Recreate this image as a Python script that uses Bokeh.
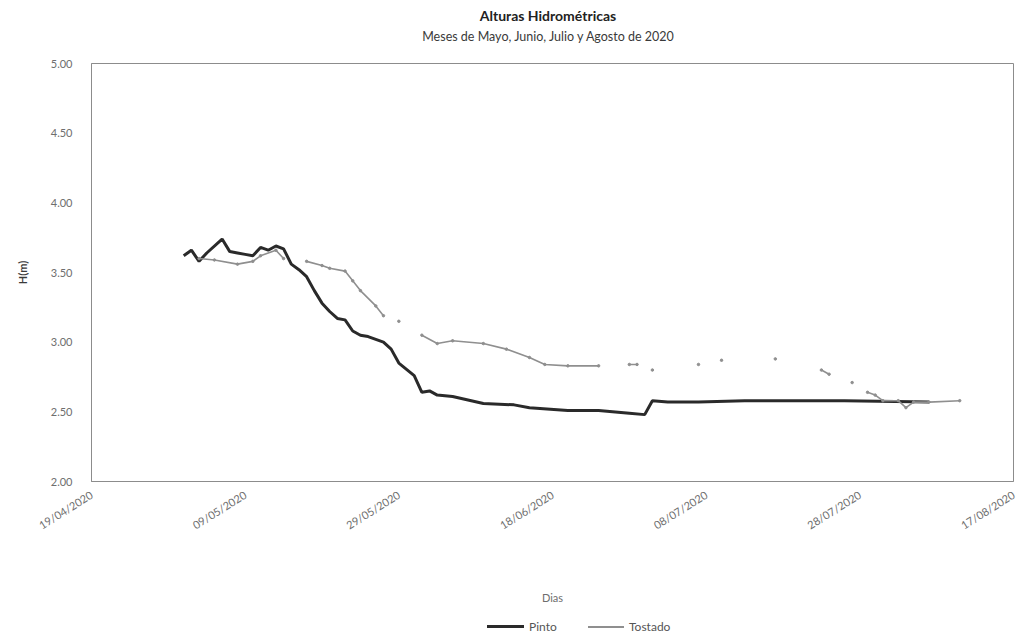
import numpy as np
import pandas as pd
from bokeh.plotting import figure
from bokeh.layouts import column
from bokeh.models import (ColumnDataSource, FixedTicker, DatetimeTickFormatter,
                          NumeralTickFormatter, Range1d, Div)
from bokeh.embed import file_html
from bokeh.resources import INLINE

# ---------------- data ----------------
title_text = "Alturas Hidrométricas"
subtitle_text = "Meses de Mayo, Junio, Julio y Agosto de 2020"
series_names = ["Pinto", "Tostado"]

pinto_dates = ["2020-05-01", "2020-05-02", "2020-05-03", "2020-05-04", "2020-05-06",
               "2020-05-07", "2020-05-08", "2020-05-09", "2020-05-10", "2020-05-11",
               "2020-05-12", "2020-05-13", "2020-05-14", "2020-05-15", "2020-05-16",
               "2020-05-17", "2020-05-18", "2020-05-19", "2020-05-20", "2020-05-21",
               "2020-05-22", "2020-05-23", "2020-05-24", "2020-05-25", "2020-05-27",
               "2020-05-28", "2020-05-29", "2020-05-31", "2020-06-01", "2020-06-02",
               "2020-06-03", "2020-06-05", "2020-06-09", "2020-06-13", "2020-06-15",
               "2020-06-20", "2020-06-24", "2020-06-28", "2020-06-30", "2020-07-01",
               "2020-07-03", "2020-07-07", "2020-07-13", "2020-07-26", "2020-08-06"]
pinto_values = [3.62, 3.66, 3.58, 3.64, 3.74,
                3.65, 3.64, 3.63, 3.62, 3.68,
                3.66, 3.69, 3.67, 3.56, 3.52,
                3.47, 3.37, 3.28, 3.22, 3.17,
                3.16, 3.08, 3.05, 3.04, 3.00,
                2.95, 2.85, 2.76, 2.64, 2.65,
                2.62, 2.61, 2.56, 2.55, 2.53,
                2.51, 2.51, 2.49, 2.48, 2.58,
                2.57, 2.57, 2.58, 2.58, 2.57]

tostado_dates = ["2020-05-03", "2020-05-05", "2020-05-08", "2020-05-10", "2020-05-11",
                 "2020-05-13", "2020-05-14", "2020-05-16", "2020-05-17", "2020-05-19",
                 "2020-05-20", "2020-05-22", "2020-05-23", "2020-05-24", "2020-05-26",
                 "2020-05-27", "2020-05-28", "2020-05-29", "2020-05-30", "2020-06-01",
                 "2020-06-03", "2020-06-05", "2020-06-09", "2020-06-12", "2020-06-15",
                 "2020-06-17", "2020-06-20", "2020-06-24", "2020-06-25", "2020-06-28",
                 "2020-06-29", "2020-06-30", "2020-07-01", "2020-07-02", "2020-07-07",
                 "2020-07-08", "2020-07-10", "2020-07-11", "2020-07-17", "2020-07-18",
                 "2020-07-23", "2020-07-24", "2020-07-25", "2020-07-27", "2020-07-28",
                 "2020-07-29", "2020-07-30", "2020-07-31", "2020-08-02", "2020-08-03",
                 "2020-08-04", "2020-08-06", "2020-08-10"]
tostado_values = [3.60, 3.59, 3.56, 3.58, 3.62,
                  3.66, 3.60, None, 3.58, 3.55,
                  3.53, 3.51, 3.44, 3.37, 3.26,
                  3.19, None, 3.15, None, 3.05,
                  2.99, 3.01, 2.99, 2.95, 2.89,
                  2.84, 2.83, 2.83, None, 2.84,
                  2.84, None, 2.80, None, 2.84,
                  None, 2.87, None, 2.88, None,
                  2.80, 2.77, None, 2.71, None,
                  2.64, 2.62, 2.58, 2.58, 2.53,
                  2.57, 2.57, 2.58]

x_tick_labels = ["19/04/2020", "09/05/2020", "29/05/2020", "18/06/2020",
                 "08/07/2020", "28/07/2020", "17/08/2020"]
y_ticks = [2.0, 2.5, 3.0, 3.5, 4.0, 4.5, 5.0]

# ---------------- build ----------------
FONT = "Lato"
PINTO_COLOR = "#2a2a2a"
TOSTADO_COLOR = "#8f8f8f"
pinto_src = ColumnDataSource(dict(x=pd.to_datetime(pinto_dates), y=pinto_values))
t_vals = np.array([np.nan if v is None else v for v in tostado_values], dtype=float)
tostado_src = ColumnDataSource(dict(x=pd.to_datetime(tostado_dates), y=t_vals))

tick_dt = pd.to_datetime(x_tick_labels, format="%d/%m/%Y")
tick_ms = [int(t.value // 10**6) for t in tick_dt]

p = figure(frame_width=922, frame_height=418, x_axis_type="datetime", output_backend="svg",
           toolbar_location=None, title=None,
           x_range=Range1d(tick_ms[0], tick_ms[-1]), y_range=Range1d(2.0, 5.0),
           min_border_left=91, min_border_right=4, min_border_top=13,
           min_border_bottom=136, margin=(0, 0, 0, 0))

p.xgrid.visible = False
p.ygrid.visible = False
p.outline_line_color = "#8c8c8c"
p.outline_line_width = 1

p.line("x", "y", source=pinto_src, line_color=PINTO_COLOR, line_width=3)
p.line("x", "y", source=tostado_src, line_color=TOSTADO_COLOR, line_width=1.6)
p.scatter("x", "y", source=tostado_src, size=2.5, color=TOSTADO_COLOR)

# axes
p.xaxis.ticker = FixedTicker(ticks=tick_ms)
p.xaxis.formatter = DatetimeTickFormatter(days="%d/%m/%Y", months="%d/%m/%Y",
                                          years="%d/%m/%Y", hours="%d/%m/%Y",
                                          minutes="%d/%m/%Y", seconds="%d/%m/%Y")
p.xaxis.major_label_orientation = 0.56
p.yaxis.ticker = FixedTicker(ticks=y_ticks)
p.yaxis.formatter = NumeralTickFormatter(format="0.00")

for ax in (p.xaxis[0], p.yaxis[0]):
    ax.axis_line_color = "#8c8c8c"
    ax.major_tick_line_color = None
    ax.minor_tick_line_color = None
    ax.major_label_text_font = FONT
    ax.major_label_text_font_size = "11px"
    ax.major_label_text_color = "#6e6e6e"

p.xaxis.axis_label = "Dias"
p.xaxis.axis_label_text_font = FONT
p.xaxis.axis_label_text_font_size = "11px"
p.xaxis.axis_label_text_font_style = "normal"
p.xaxis.axis_label_text_color = "#6e6e6e"
p.xaxis.axis_label_standoff = 51
p.xaxis.major_label_standoff = 6

p.yaxis.axis_label = "H(m)"
p.yaxis.axis_label_text_font = FONT
p.yaxis.axis_label_text_font_size = "11px"
p.yaxis.axis_label_text_font_style = "bold"
p.yaxis.axis_label_text_color = "#3a3a3a"
p.yaxis.axis_label_standoff = 19
p.yaxis.major_label_standoff = 13

head_html = (
    '<div style="position:relative;width:1017px;height:50px;font-family:Lato,sans-serif;">'
    '<div style="position:absolute;left:348px;width:400px;top:7px;text-align:center;'
    'font-size:14px;line-height:17px;font-weight:bold;color:#222222;">' + title_text + '</div>'
    '<div style="position:absolute;left:298px;width:500px;top:29px;text-align:center;'
    'font-size:12.5px;line-height:15px;color:#3a3a3a;">' + subtitle_text + '</div>'
    '</div>'
)
head = Div(text=head_html, width=1017, height=50, margin=(0, 0, 0, 0))

legend_html = (
    '<div style="position:relative;width:1017px;height:18px;font-family:Lato,sans-serif;'
    'font-size:12px;color:#555555;">'
    '<span style="position:absolute;left:487px;top:8px;width:37px;height:3px;'
    'background:' + PINTO_COLOR + ';"></span>'
    '<span style="position:absolute;left:529px;top:2px;line-height:15px;">'
    + series_names[0] + '</span>'
    '<span style="position:absolute;left:588px;top:9px;width:36px;height:2px;'
    'background:' + TOSTADO_COLOR + ';"></span>'
    '<span style="position:absolute;left:629px;top:2px;line-height:15px;">'
    + series_names[1] + '</span>'
    '</div>'
)
legend_div = Div(text=legend_html, width=1017, height=18, margin=(0, 0, 0, 0))

layout = column(head, p, legend_div, spacing=0)
open("out.html", "w").write(file_html(layout, INLINE))
